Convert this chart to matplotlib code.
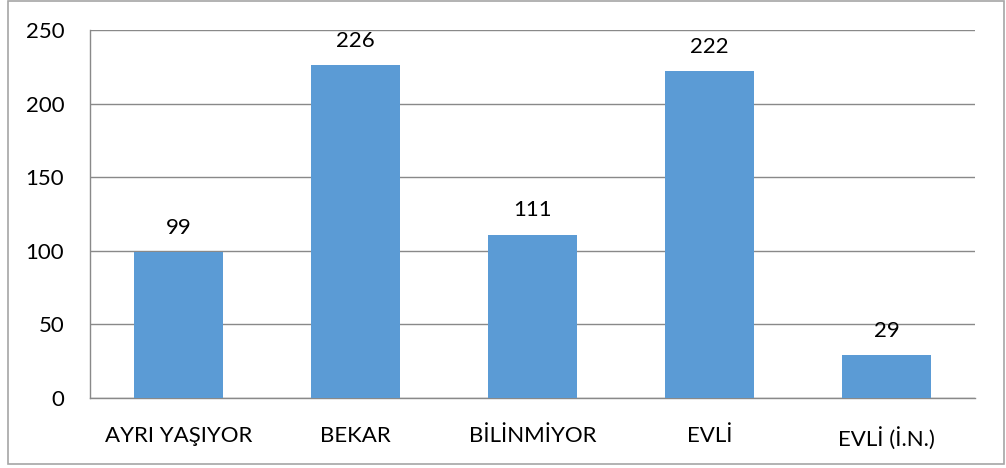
import matplotlib
matplotlib.use("Agg")
import matplotlib.pyplot as plt
from matplotlib.patches import Rectangle

categories = ["AYRI YAŞIYOR", "BEKAR", "BİLİNMİYOR", "EVLİ", "EVLİ (İ.N.)"]
values = [99, 226, 111, 222, 29]
yticks = [0, 50, 100, 150, 200, 250]

plt.rcParams['font.family'] = ['Lato', 'DejaVu Sans']
fig = plt.figure(figsize=(10.06, 4.68), dpi=100)
W, H = 1006, 468
ax = fig.add_axes([90 / W, 1 - 398 / H, (975 - 90) / W, (398 - 30) / H])

x = list(range(len(categories)))
bars = ax.bar(x, values, width=0.5, color="#5B9BD5", zorder=3)
ax.set_xlim(-0.5, len(categories) - 0.5)
ax.set_ylim(0, 250)
ax.set_yticks(yticks)
ax.set_xticks(x)
ax.set_xticklabels(categories)
ax.tick_params(axis='both', length=0, labelsize=16, colors="black")
ax.tick_params(axis='y', pad=18.5)
ax.tick_params(axis='x', pad=20.5)
ax.yaxis.grid(True, color="#898989", linewidth=1, zorder=0)
for s in ["top", "right"]:
    ax.spines[s].set_visible(False)
ax.spines["left"].set_color("#898989")
ax.spines["bottom"].set_color("#898989")
ax.spines["left"].set_linewidth(1)
ax.spines["bottom"].set_linewidth(1)

for b, v in zip(bars, values):
    ax.annotate(str(v), (b.get_x() + b.get_width() / 2, v), xytext=(0, 10.5),
                textcoords="offset points", ha="center", va="bottom", fontsize=16)

fig.patches.append(Rectangle((8 / W, 1 - 464 / H), (1004 - 8) / W, (464 - 1) / H,
                             transform=fig.transFigure, fill=False,
                             edgecolor="#A6A6A6", linewidth=1.2))
fig.savefig("out.png", dpi=100)
